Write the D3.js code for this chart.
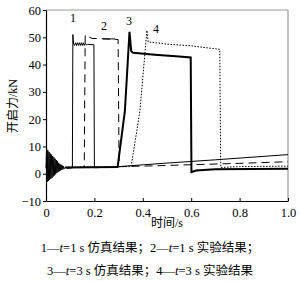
<!DOCTYPE html>
<html>
<head>
<meta charset="utf-8">
<script src="https://cdn.jsdelivr.net/npm/d3@7"></script>
<style>
  body { margin: 0; background: #fff; }
  svg { display: block; }
</style>
</head>
<body>
<div id="chart"></div>
<script>
// ticks
var xTicks = [0, 0.2, 0.4, 0.6, 0.8, 1.0];
var yTicks = [-10, 0, 10, 20, 30, 40, 50, 60];

// start-up oscillation (shared by curve 1), [t, F]
var noise = [[0, 2], [0.0025, 9.5], [0.005, -3], [0.0075, 8.6], [0.01, -2.6], [0.0125, 8], [0.015, -2.2],
  [0.0175, 7.4], [0.02, -1.8], [0.0225, 7], [0.025, -1.5], [0.0275, 6.5], [0.03, -1], [0.0325, 6],
  [0.035, -0.6], [0.0375, 5.5], [0.04, -0.2], [0.0425, 5], [0.045, 0.3], [0.0475, 4.5], [0.05, 0.6],
  [0.0525, 4], [0.055, 0.9], [0.0575, 3.6], [0.06, 1.2], [0.0625, 3.3], [0.065, 1.4], [0.0675, 3],
  [0.07, 1.6], [0.0725, 2.7], [0.075, 1.8], [0.08, 2.4], [0.09, 1.9], [0.1, 2.1]];

// 1: t=1 s simulation
var curve1 = noise.concat([[0.109, 2.2], [0.111, 51], [0.114, 47.5], [0.118, 47], [0.122, 48], [0.126, 47],
  [0.13, 48], [0.134, 47], [0.138, 48], [0.142, 47], [0.146, 48], [0.15, 47], [0.154, 48], [0.158, 47],
  [0.162, 47.8], [0.166, 47.2], [0.172, 47.4], [0.19, 47.3], [0.198, 47.3], [0.2, 2.2], [0.3, 2.6],
  [0.5, 3.9], [0.7, 5.1], [1.0, 7.0]]);

// 2: t=1 s experiment
var curve2 = [[0.08, 2.2], [0.158, 2.3], [0.162, 50.5], [0.172, 51], [0.18, 50], [0.19, 49.6],
  [0.25, 49.4], [0.298, 49.2], [0.302, 2.6], [0.45, 2.9], [0.6, 3.3], [0.8, 3.8], [1.0, 4.4]];

// 3: t=3 s simulation
var curve3 = [[0.08, 2.3], [0.296, 2.5], [0.326, 23], [0.345, 52], [0.352, 45], [0.36, 44.3],
  [0.45, 43.6], [0.55, 43], [0.598, 42.6], [0.601, 0.6], [0.62, 1.2], [0.7, 1.6], [1.0, 1.8]];

// 4: t=3 s experiment
var curve4 = [[0.08, 2.4], [0.352, 2.6], [0.388, 23], [0.417, 52.5], [0.422, 48.3], [0.5, 47.5],
  [0.607, 46.8], [0.66, 46.2], [0.718, 45.6], [0.722, 2.3], [0.8, 2.6], [1.0, 2.8]];

var curveNames = ['1', '2', '3', '4'];
var labelPos = [[0.112, 55.5], [0.24, 52.5], [0.343, 54.5], [0.455, 51.5]];

var width = 300, height = 282;
var margin = { left: 46, right: 12, top: 10, bottom: 81 };

var svg = d3.select('#chart').append('svg')
  .attr('width', width).attr('height', height);

var x = d3.scaleLinear().domain([0, 1]).range([margin.left, width - margin.right]);
var y = d3.scaleLinear().domain([-10, 60]).range([height - margin.bottom, margin.top]);

var serif = '"Liberation Serif", "Times New Roman", serif';
var cjk = '"Liberation Serif", "Noto Sans CJK SC", serif';

// frame: top and right in grey
svg.append('line')
  .attr('x1', x(0)).attr('x2', x(1)).attr('y1', y(60)).attr('y2', y(60))
  .attr('stroke', '#999').attr('stroke-width', 1.2);
svg.append('line')
  .attr('x1', x(1)).attr('x2', x(1)).attr('y1', y(60)).attr('y2', y(-10))
  .attr('stroke', '#999').attr('stroke-width', 1.2);

// axes
var xAxis = svg.append('g')
  .attr('transform', 'translate(0,' + y(-10) + ')')
  .call(d3.axisBottom(x).tickValues(xTicks).tickSizeInner(-3).tickSizeOuter(0).tickPadding(7)
    .tickFormat(function (d) { return d === 0 ? '0' : d3.format('.1f')(d); }));

var yAxis = svg.append('g')
  .attr('transform', 'translate(' + x(0) + ',0)')
  .call(d3.axisLeft(y).tickValues(yTicks).tickSizeInner(3).tickSizeOuter(0).tickPadding(2));

[xAxis, yAxis].forEach(function (g) {
  g.select('.domain').attr('stroke', '#000').attr('stroke-width', 1.2);
  g.selectAll('.tick line').attr('stroke', '#000');
  g.selectAll('.tick text').attr('font-family', serif).attr('font-size', 12.5).attr('fill', '#000');
});

// curves
var line = d3.line()
  .x(function (d) { return x(d[0]); })
  .y(function (d) { return y(d[1]); });

var curveStyles = [
  { data: curve1, width: 1, dash: null },
  { data: curve2, width: 1, dash: '8,5' },
  { data: curve3, width: 2, dash: null },
  { data: curve4, width: 1, dash: '1.5,1.5' }
];

svg.append('g').selectAll('path')
  .data(curveStyles)
  .join('path')
  .attr('d', function (d) { return line(d.data); })
  .attr('fill', 'none')
  .attr('stroke', '#000')
  .attr('stroke-width', function (d) { return d.width; })
  .attr('stroke-dasharray', function (d) { return d.dash; })
  .attr('stroke-linejoin', 'miter');

// curve number labels
svg.append('g').selectAll('text')
  .data(curveNames)
  .join('text')
  .attr('x', function (d, i) { return x(labelPos[i][0]); })
  .attr('y', function (d, i) { return y(labelPos[i][1]); })
  .attr('text-anchor', 'middle')
  .attr('font-family', serif).attr('font-size', 12)
  .text(function (d) { return d; });

// leader under label 2
svg.append('line')
  .attr('x1', x(0.235)).attr('x2', x(0.285)).attr('y1', y(49.4)).attr('y2', y(49.4))
  .attr('stroke', '#000').attr('stroke-width', 1);

// axis titles
svg.append('text')
  .attr('x', 167).attr('y', 227)
  .attr('text-anchor', 'middle')
  .attr('font-family', cjk).attr('font-size', 12)
  .text('时间/s');

svg.append('text')
  .attr('transform', 'translate(17,106) rotate(-90)')
  .attr('text-anchor', 'middle')
  .attr('font-family', cjk).attr('font-size', 12)
  .text('开启力/kN');

// legend lines below the chart
var legendRows = [
  [['1—', false], ['t', true], ['=1 s 仿真结果；2—', false], ['t', true], ['=1 s 实验结果；', false]],
  [['3—', false], ['t', true], ['=3 s 仿真结果；4—', false], ['t', true], ['=3 s 实验结果', false]]
];
var legendY = [252, 275];

legendRows.forEach(function (row, i) {
  var t = svg.append('text')
    .attr('x', 150).attr('y', legendY[i])
    .attr('text-anchor', 'middle')
    .attr('font-family', cjk).attr('font-size', 12.5);
  row.forEach(function (part) {
    t.append('tspan')
      .attr('font-style', part[1] ? 'italic' : null)
      .text(part[0]);
  });
});
</script>
</body>
</html>
